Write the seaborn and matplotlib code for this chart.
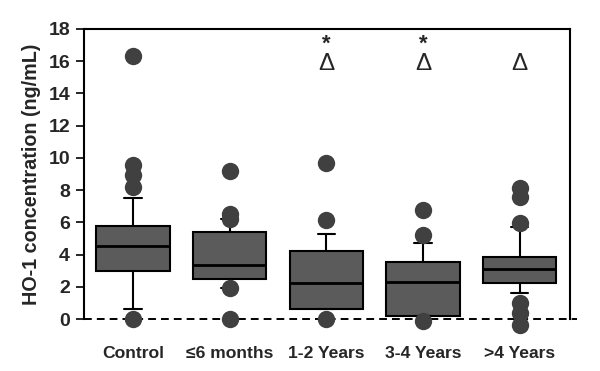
import matplotlib
matplotlib.use('Agg')
import matplotlib.pyplot as plt
import seaborn as sns
import pandas as pd

groups = ['Control', '≤6 months', '1-2 Years', '3-4 Years', '>4 Years']
q1 = [3.0, 2.48, 0.6, 0.21, 2.21]
median = [4.55, 3.37, 2.22, 2.27, 3.1]
q3 = [5.8, 5.38, 4.2, 3.57, 3.84]
whisker_low = [0.6, 1.95, 0.6, 0.21, 1.6]
whisker_high = [7.5, 6.2, 5.25, 4.75, 5.7]
outliers = [
    [16.3, 9.56, 8.95, 8.2, 0.0],
    [9.2, 6.5, 6.2, 1.95, 0.0],
    [9.7, 6.15, 0.0],
    [6.75, 5.2, -0.1],
    [8.15, 7.6, 5.95, 1.0, 0.4, -0.37],
]
star = [False, False, True, True, False]
delta = [False, False, True, True, True]

sns.set_style('white')
plt.rcParams['font.family'] = ['Liberation Sans', 'DejaVu Sans']
plt.rcParams['font.weight'] = 'bold'

fig = plt.figure(figsize=(6, 3.71), dpi=100)
ax = fig.add_axes([0.14, 0.14, 0.81, 0.782])

stats = []
for i, g in enumerate(groups):
    stats.append({'label': g, 'q1': q1[i], 'med': median[i], 'q3': q3[i],
                  'whislo': whisker_low[i], 'whishi': whisker_high[i], 'fliers': []})

ax.bxp(stats, positions=range(len(groups)), widths=0.76, patch_artist=True,
       showfliers=False, capwidths=0.18,
       boxprops={'facecolor': '#5b5b5b', 'edgecolor': 'black', 'linewidth': 1.5},
       medianprops={'color': 'black', 'linewidth': 2.0},
       whiskerprops={'color': 'black', 'linewidth': 1.5},
       capprops={'color': 'black', 'linewidth': 1.5})

df = pd.DataFrame([(g, v) for g, vals in zip(groups, outliers) for v in vals],
                  columns=['group', 'value'])
sns.stripplot(data=df, x='group', y='value', order=groups, jitter=False,
              color='#404040', size=12.5, linewidth=0, ax=ax, zorder=5)
for c in ax.collections:
    c.set_clip_on(False)

ax.axhline(0, xmin=0, xmax=1.015, color='black', linestyle=(0, (4, 2.6)),
           linewidth=1.4, clip_on=False, zorder=1)

for i in range(len(groups)):
    if star[i]:
        ax.text(i, 17.05, '*', ha='center', va='center', fontsize=16, fontweight='bold')
    if delta[i]:
        ax.text(i, 15.8, 'Δ', ha='center', va='center', fontsize=17.5, fontweight='normal')

ax.set_xlim(-0.505, 4.52)
ax.set_ylim(0, 18)
ax.set_yticks(range(0, 19, 2))
ax.set_xticks(range(len(groups)))
ax.set_xticklabels(groups)
ax.set_xlabel('')
ax.set_ylabel('HO-1 concentration (ng/mL)', fontsize=14.2, fontweight='bold', labelpad=5)

ax.spines['bottom'].set_visible(False)
for s in ['left', 'top', 'right']:
    ax.spines[s].set_color('black')
    ax.spines[s].set_linewidth(1.5)

ax.tick_params(axis='y', left=True, length=6, width=1.4, labelsize=14, pad=4)
ax.tick_params(axis='x', bottom=False, labelsize=12.6, pad=16)
for lbl in ax.get_xticklabels() + ax.get_yticklabels():
    lbl.set_fontweight('bold')

fig.savefig('out.png', dpi=100)
